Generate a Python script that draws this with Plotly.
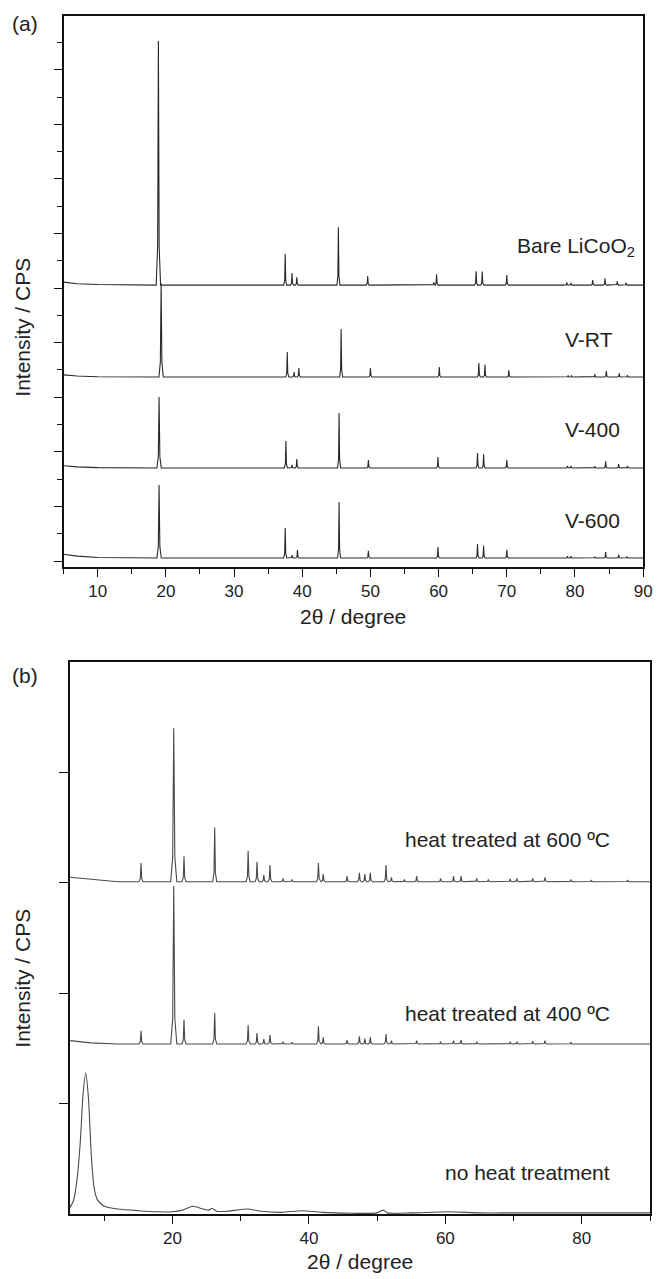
import plotly.graph_objects as go

W, H = 664, 1279

# ---------------- Panel (a): LiCoO2 XRD patterns (offset stacked) ----------------
bare_base = 10.11
bare_bg_x = [5, 7, 10, 14]
bare_bg_y = [10.22, 10.16, 10.13, 10.11]
bare_pos = [18.9, 37.5, 38.5, 39.2, 45.3, 49.6, 59.3, 59.7, 65.5, 66.4, 70.0, 78.8, 79.4, 82.6, 84.4, 86.2, 87.5]
bare_h = [8.94, 1.14, 0.44, 0.29, 2.12, 0.33, 0.10, 0.40, 0.51, 0.50, 0.37, 0.10, 0.08, 0.18, 0.25, 0.14, 0.08]

vrt_base = 6.74
vrt_bg_x = [5, 7, 10, 14]
vrt_bg_y = [6.82, 6.78, 6.75, 6.74]
vrt_pos = [19.3, 37.8, 38.8, 39.5, 45.7, 50.0, 60.1, 65.9, 66.8, 70.3, 79.0, 79.5, 82.9, 84.6, 86.5, 87.7]
vrt_h = [3.44, 0.92, 0.18, 0.33, 1.76, 0.33, 0.37, 0.51, 0.45, 0.25, 0.06, 0.06, 0.10, 0.22, 0.14, 0.07]

v400_base = 3.41
v400_bg_x = [5, 7, 10, 14]
v400_bg_y = [3.49, 3.45, 3.42, 3.41]
v400_pos = [19.0, 37.6, 38.5, 39.2, 45.4, 49.7, 59.9, 65.7, 66.6, 70.0, 78.9, 79.4, 82.9, 84.5, 86.4, 87.7]
v400_h = [2.60, 0.99, 0.11, 0.33, 2.01, 0.29, 0.40, 0.55, 0.50, 0.29, 0.07, 0.07, 0.06, 0.24, 0.14, 0.07]

v600_base = 0.11
v600_bg_x = [5, 7, 10, 14]
v600_bg_y = [0.25, 0.18, 0.13, 0.11]
v600_pos = [19.0, 37.5, 38.5, 39.3, 45.4, 49.7, 59.9, 65.7, 66.6, 70.0, 78.9, 79.4, 82.9, 84.5, 86.4, 87.6]
v600_h = [2.67, 1.10, 0.11, 0.29, 2.05, 0.26, 0.40, 0.51, 0.45, 0.30, 0.07, 0.07, 0.05, 0.22, 0.12, 0.06]

a_labels = ["Bare LiCoO<sub>2</sub>", "V-RT", "V-400", "V-600"]

# ---------------- Panel (b): vanadium oxide patterns ----------------
h600_base = 3.01
h600_bg_x = [5, 8, 12]
h600_bg_y = [3.05, 3.03, 3.01]
h600_pos = [15.4, 20.2, 21.7, 26.2, 31.1, 32.4, 33.4, 34.3, 36.2, 37.5, 41.4, 42.1, 45.6, 47.4, 48.2, 49.0,
            51.3, 52.1, 54.0, 55.8, 59.3, 61.2, 62.3, 64.6, 66.3, 69.5, 70.5, 72.8, 74.6, 78.4, 81.4, 86.7]
h600_h = [0.17, 1.39, 0.23, 0.49, 0.28, 0.18, 0.06, 0.15, 0.03, 0.02, 0.17, 0.07, 0.05, 0.08, 0.07, 0.08,
          0.15, 0.04, 0.02, 0.05, 0.03, 0.05, 0.05, 0.03, 0.02, 0.025, 0.03, 0.03, 0.04, 0.02, 0.015, 0.015]

h400_base = 1.54
h400_bg_x = [5, 8, 12]
h400_bg_y = [1.57, 1.55, 1.54]
h400_pos = [15.4, 20.2, 21.7, 26.2, 31.1, 32.4, 33.4, 34.3, 36.2, 37.5, 41.4, 42.1, 45.6, 47.4, 48.2, 49.0,
            51.3, 52.1, 55.8, 59.3, 61.2, 62.3, 64.6, 69.5, 70.5, 72.8, 74.6, 78.4]
h400_h = [0.12, 1.43, 0.22, 0.28, 0.17, 0.10, 0.045, 0.08, 0.02, 0.015, 0.16, 0.06, 0.035, 0.07, 0.05, 0.06,
          0.09, 0.03, 0.03, 0.02, 0.03, 0.035, 0.02, 0.02, 0.02, 0.025, 0.03, 0.015]

noheat_x = [5, 5.5, 6.0, 6.5, 6.9, 7.3, 7.7, 8.1, 8.5, 9.0, 10, 12, 15, 18, 20, 21.5, 23, 24.5, 25.3, 25.8,
            26.5, 28, 31, 33, 36, 39, 42, 50, 50.9, 51.5, 55, 60.5, 65, 70, 80, 90]
noheat_y = [0.06, 0.12, 0.30, 0.65, 1.08, 1.28, 1.05, 0.55, 0.25, 0.13, 0.07, 0.045, 0.03, 0.02, 0.02, 0.035,
            0.07, 0.045, 0.035, 0.05, 0.025, 0.025, 0.045, 0.025, 0.015, 0.03, 0.015, 0.01, 0.035, 0.01, 0.01,
            0.02, 0.01, 0.01, 0.01, 0.01]

b_labels = ["heat treated at 600 ºC", "heat treated at 400 ºC", "no heat treatment"]

# peak drawing shape (relative offsets / fractions)
SHAPE_DX = [-1.0, -0.35, 0.0, 0.35, 1.0]
SHAPE_F = [0.0, 0.16, 1.0, 0.16, 0.0]


def pattern(bg_x, bg_y, base, pos, h, w, w_big, x_end=90):
    big = max(h)
    pts = []
    for p, hh in zip(pos, h):
        ww = w_big if hh == big else w
        for dx, f in zip(SHAPE_DX, SHAPE_F):
            pts.append((p + dx * ww, base + f * hh))
    pts.sort(key=lambda t: t[0])
    xs = list(bg_x) + [t[0] for t in pts] + [x_end]
    ys = list(bg_y) + [t[1] for t in pts] + [base]
    return xs, ys


fig = go.Figure()

ca = "#2a2a2a"
for (bx, by, b, p, h) in [
    (bare_bg_x, bare_bg_y, bare_base, bare_pos, bare_h),
    (vrt_bg_x, vrt_bg_y, vrt_base, vrt_pos, vrt_h),
    (v400_bg_x, v400_bg_y, v400_base, v400_pos, v400_h),
    (v600_bg_x, v600_bg_y, v600_base, v600_pos, v600_h),
]:
    xs, ys = pattern(bx, by, b, p, h, 0.22, 0.32)
    fig.add_trace(go.Scatter(x=xs, y=ys, mode="lines", line=dict(color=ca, width=1.1),
                             xaxis="x", yaxis="y", showlegend=False, hoverinfo="skip"))

cb = "#4a4a4a"
for (bx, by, b, p, h) in [
    (h600_bg_x, h600_bg_y, h600_base, h600_pos, h600_h),
    (h400_bg_x, h400_bg_y, h400_base, h400_pos, h400_h),
]:
    xs, ys = pattern(bx, by, b, p, h, 0.3, 0.45)
    fig.add_trace(go.Scatter(x=xs, y=ys, mode="lines", line=dict(color=cb, width=1.1),
                             xaxis="x2", yaxis="y2", showlegend=False, hoverinfo="skip"))
fig.add_trace(go.Scatter(x=noheat_x, y=noheat_y, mode="lines", line=dict(color=cb, width=1.1, shape="spline", smoothing=0.6),
                         xaxis="x2", yaxis="y2", showlegend=False, hoverinfo="skip"))


def px_x(p):
    return p / W


def px_y(p):
    return 1 - p / H


font = "Liberation Sans, Arial, sans-serif"
axis_common = dict(showgrid=False, zeroline=False, showline=True, mirror=True,
                   linecolor="#111", linewidth=1.5, ticks="outside", tickcolor="#111",
                   tickwidth=1.3, tickfont=dict(family=font, size=17, color="#222"))

fig.update_layout(
    width=W, height=H, margin=dict(l=0, r=0, t=0, b=0),
    paper_bgcolor="white", plot_bgcolor="white",
    xaxis=dict(domain=[px_x(64.5), px_x(652)], anchor="y", range=[5, 90],
               tick0=0, dtick=10, ticklen=8,
               minor=dict(dtick=5, ticklen=5, ticks="outside", tickcolor="#111", tickwidth=1.3),
               **axis_common),
    yaxis=dict(domain=[px_y(567), px_y(16)], anchor="x", range=[-0.22, 19.97],
               tick0=0, dtick=2, ticklen=8, showticklabels=False,
               minor=dict(dtick=1, ticklen=5, ticks="outside", tickcolor="#111", tickwidth=1.3),
               **axis_common),
    xaxis2=dict(domain=[px_x(71), px_x(659)], anchor="y2", range=[5, 90],
                tick0=0, dtick=20, ticklen=8,
                minor=dict(dtick=10, ticklen=5, ticks="outside", tickcolor="#111", tickwidth=1.3),
                **axis_common),
    yaxis2=dict(domain=[px_y(1214), px_y(662)], anchor="x2", range=[0, 5],
                tickmode="array", tickvals=[1, 2, 3, 4], ticklen=9, showticklabels=False,
                **axis_common),
)

ann = []
tf = dict(family=font, size=21, color="#222")
ann.append(dict(text="(a)", x=px_x(10), y=px_y(24), xanchor="left", yanchor="middle"))
ann.append(dict(text="(b)", x=px_x(10), y=px_y(676), xanchor="left", yanchor="middle"))
ann.append(dict(text="Intensity / CPS", x=px_x(22), y=px_y(327), textangle=-90, xanchor="center", yanchor="middle"))
ann.append(dict(text="Intensity / CPS", x=px_x(22), y=px_y(978), textangle=-90, xanchor="center", yanchor="middle"))
ann.append(dict(text="2θ / degree", x=px_x(358), y=px_y(616), xanchor="center", yanchor="middle"))
ann.append(dict(text="2θ / degree", x=px_x(365), y=px_y(1261), xanchor="center", yanchor="middle"))
ann.append(dict(text=a_labels[0], x=px_x(522), y=px_y(247), xanchor="left", yanchor="middle"))
for lab, yy in zip(a_labels[1:], [339, 429, 520]):
    ann.append(dict(text=lab, x=px_x(571), y=px_y(yy), xanchor="left", yanchor="middle"))
for lab, yy in zip(b_labels, [839, 1013, 1172]):
    ann.append(dict(text=lab, x=px_x(620), y=px_y(yy), xanchor="right", yanchor="middle"))
for a in ann:
    a.update(xref="paper", yref="paper", showarrow=False, font=tf)
fig.update_layout(annotations=ann)

fig.write_html("out.html", config={"displayModeBar": False},
               post_script="document.body.style.margin='0';document.body.style.overflow='hidden';")
